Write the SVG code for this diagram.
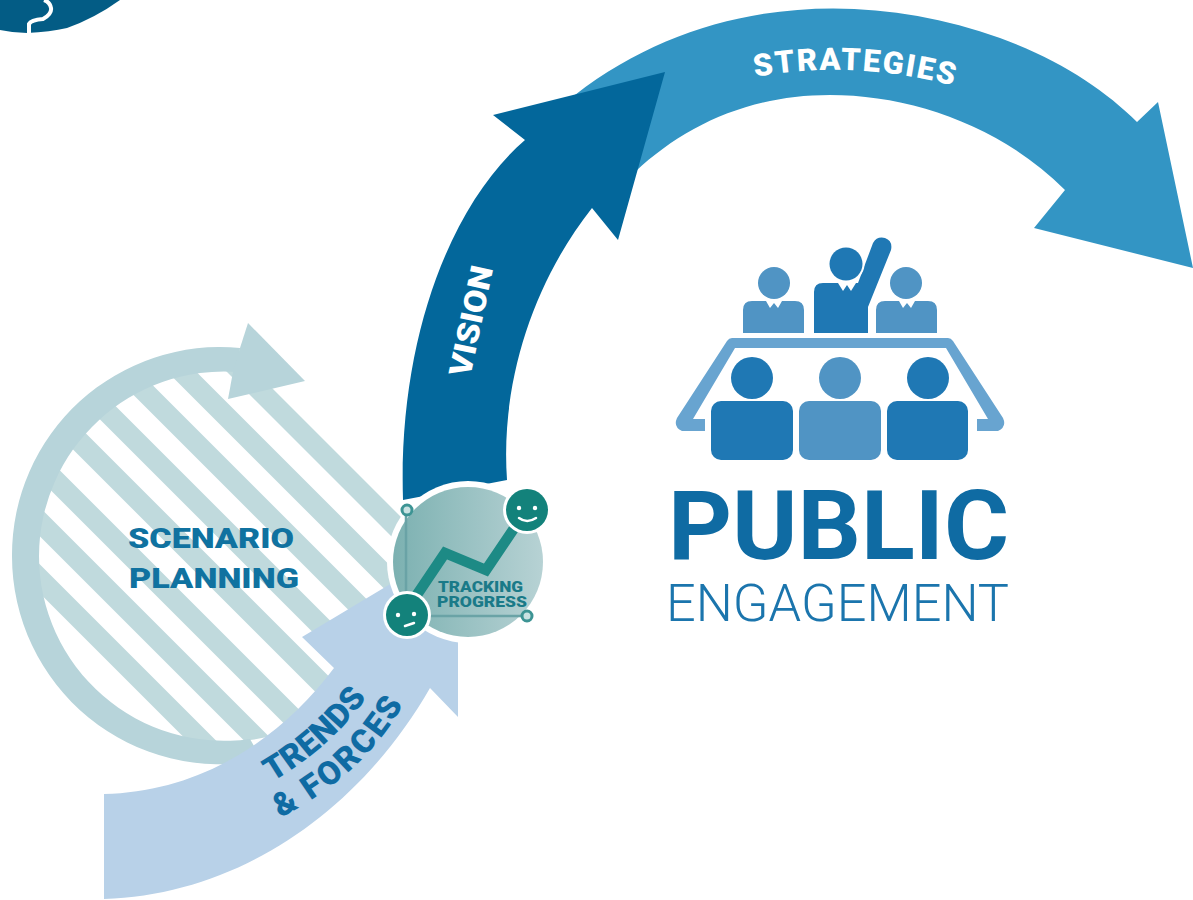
<svg xmlns="http://www.w3.org/2000/svg" width="1193" height="900" viewBox="0 0 1193 900">
<style>
text{font-family:Roboto,"Liberation Sans",sans-serif}
.b{font-weight:700}
.h{font-weight:900}
.stripe{stroke:#c0dadd;stroke-width:20.5;fill:none}
.dk{fill:#1f78b4}.md{fill:#5094c4}.tb{fill:#68a4d0}
.wl{fill:none;stroke:#fff;stroke-linecap:round;stroke-linejoin:round}
</style>
<defs>
<clipPath id="sc"><circle cx="224" cy="556" r="186"/><path d="M224 371 L440 371 L440 650 L300 730 L224 741Z"/></clipPath>
<linearGradient id="ng" x1="0" x2="1" y1="0" y2="0"><stop offset="0" stop-color="#7cb1b1"/><stop offset="1" stop-color="#b7d2d4"/></linearGradient>
<path id="sp" d="M755 77 Q851 59 955 86"/>
<path id="tp" d="M272 782 Q335 745 372 690"/>
<path id="fp" d="M280 818 Q370 772 410 692"/>
</defs>
<rect width="1193" height="900" fill="#fff"/>
<g id="corner">
<path d="M0 30 Q14 33 27 33 Q50 32 67 28 Q95 18 120 0 L0 0Z" fill="#035c85"/>
<path d="M29 33 L29 24 Q31 20 43 19 Q52 14 51 8 Q50 2 44 0" fill="none" stroke="#fff" stroke-width="4"/>
</g>
<g id="scenario">
<g clip-path="url(#sc)">
<path class="stripe" d="M0 130.500 L460 590.500M0 190 L460 650M0 247 L460 707M0 305 L460 765M0 362 L460 822M0 425 L460 885M0 482 L460 942M0 539 L460 999"/>
</g>
<path d="M240 348 A208 208 0 0 0 12 556 A208 208 0 0 0 262 760 L250 739 A185 185 0 0 1 39 556 A185 185 0 0 1 238 372Z" fill="#b7d4da"/>
<path d="M248 323 L305 381 L228 399 L233 372 L240 348Z" fill="#b7d4da"/>
<text class="h" font-size="28" fill="#1072a0" x="128" y="548" textLength="166" lengthAdjust="spacingAndGlyphs">SCENARIO</text>
<text class="h" font-size="28" fill="#1072a0" x="129" y="588" textLength="170" lengthAdjust="spacingAndGlyphs">PLANNING</text>
</g>
<g id="connectors">
<g id="strategies">
<path d="M575 95 C700 -2 860 -12 1000 38 C1060 60 1105 90 1137 122 L1158 102 L1193 268 L1034 228 L1065 190 C1000 125 910 95 830 95 C750 95 685 125 635 172Z" fill="#3395c4"/>
<text class="h" font-size="31" fill="#fff"><textPath href="#sp" textLength="200" lengthAdjust="spacing">STRATEGIES</textPath></text>
</g>
<g id="vision">
<path d="M403 500 C398 340 450 205 525 140 L493 115 L665 72 L618 240 L592 208 C535 280 500 380 507 480 Z" fill="#03679b"/>
<text class="h" font-size="31" fill="#fff" transform="translate(470 378) rotate(-78)" textLength="112" lengthAdjust="spacingAndGlyphs">VISION</text>
</g>
<g id="trends">
<path d="M104 794 C200 792 280 740 334 668 L302 637 L392 583 L458 610 L458 717 L430 688 C360 810 240 895 104 899Z" fill="#b8d1e8"/>
<text class="h" font-size="33" fill="#0f6ba3"><textPath href="#tp" textLength="128" lengthAdjust="spacing">TRENDS</textPath></text>
<text class="h" font-size="33" fill="#0f6ba3"><textPath href="#fp" textLength="170" lengthAdjust="spacing">&amp; FORCES</textPath></text>
</g>
</g>
<g id="tracking">
<circle cx="468" cy="562" r="81" fill="#fff"/>
<circle cx="468" cy="562" r="75" fill="url(#ng)"/>
<path d="M406 512 V610 M406 616 H522" stroke="#6aa3a6" stroke-width="2.5" fill="none"/>
<circle cx="407" cy="510" r="5" fill="#c9e2e2" stroke="#3d9494" stroke-width="3"/>
<circle cx="527" cy="616" r="5" fill="#c9e2e2" stroke="#3d9494" stroke-width="3"/>
<path d="M410 605 L445 553 L486 570 L523 515" fill="none" stroke="#1d8a85" stroke-width="10.500"/>
<circle cx="527" cy="510" r="24" fill="#fff"/><circle cx="527" cy="510" r="21" fill="#13827b"/>
<circle cx="407" cy="615" r="24" fill="#fff"/><circle cx="407" cy="615" r="21" fill="#13827b"/>
<circle cx="519" cy="508" r="2.2" fill="#fff"/><circle cx="535" cy="508" r="2.2" fill="#fff"/>
<path d="M519 518 Q527 524 536 518" class="wl" stroke-width="2.5"/>
<circle cx="398" cy="615" r="2.2" fill="#fff"/><circle cx="414" cy="614" r="2.2" fill="#fff"/>
<path d="M405 626 L414 623" class="wl" stroke-width="2.5"/>
<text class="h" font-size="14.500" fill="#1a7a88" x="438" y="592" textLength="85" lengthAdjust="spacingAndGlyphs">TRACKING</text>
<text class="h" font-size="14.500" fill="#1a7a88" x="437" y="607" textLength="90" lengthAdjust="spacingAndGlyphs">PROGRESS</text>
</g>
<g id="public-engagement">
<path class="md" d="M743 333 V310 Q743 301 752 301 H766 L770 308 L774 303 L778 308 L782 301 H795 Q804 301 804 310 V333Z"/>
<circle class="md" cx="774" cy="283" r="16"/>
<path class="md" d="M876 333 V310 Q876 301 885 301 H899 L903 308 L907 303 L911 308 L915 301 H928 Q937 301 937 310 V333Z"/>
<circle class="md" cx="906" cy="283" r="16"/>
<path class="dk" d="M814 333 V292 Q814 283 823 283 H838 L843 291 L847 285 L851 291 L856 283 H858 L873 243 Q877 236 885 238 Q893 241 891 250 L868 307 V333Z"/>
<circle cx="846" cy="264" r="18.500" fill="#fff"/>
<circle class="dk" cx="846" cy="264" r="16.500"/>
<path class="tb" d="M732 338 H948 Q951 338 953 341 L1003 418 Q1007 427 998 431 H977 V419 L988 419 L946 348 H735 L693 419 H705 V431 H682 Q673 427 677 418 L727 341 Q729 338 732 338Z"/>
<circle class="dk" cx="752" cy="378" r="21"/><circle class="md" cx="840" cy="378" r="21"/><circle class="dk" cx="928" cy="378" r="21"/>
<rect class="dk" x="711" y="401" width="82" height="59" rx="10"/><rect class="md" x="799" y="401" width="82" height="59" rx="10"/><rect class="dk" x="887" y="401" width="81" height="59" rx="10"/>
<text class="b" font-size="96" fill="#0f6ba3" x="668" y="559" textLength="341" lengthAdjust="spacingAndGlyphs">PUBLIC</text>
<text font-size="52" fill="#1b75ad" x="666" y="621" textLength="343" lengthAdjust="spacingAndGlyphs" style="font-weight:300">ENGAGEMENT</text>
</g>
</svg>
